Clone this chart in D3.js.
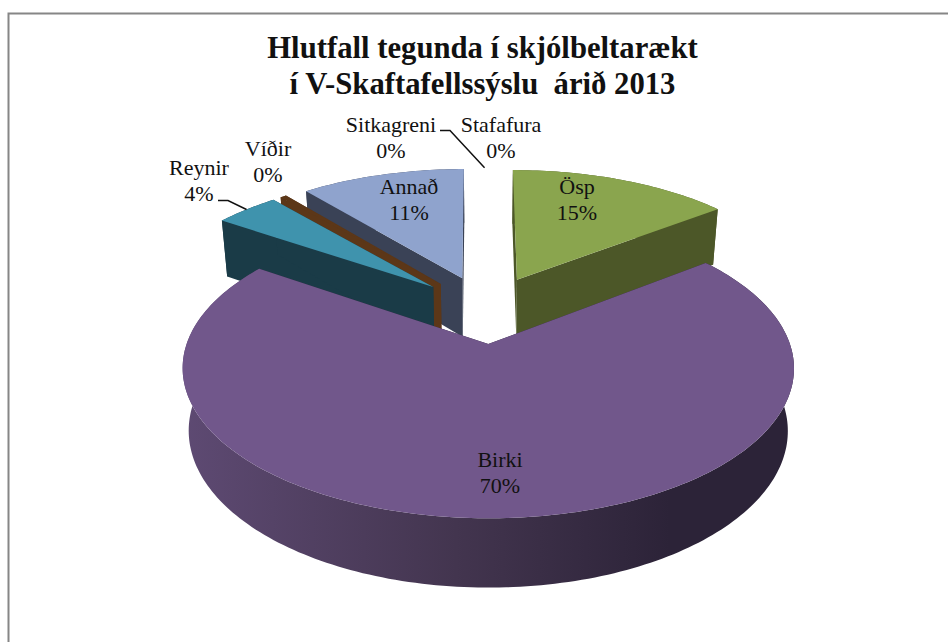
<!DOCTYPE html>
<html>
<head>
<meta charset="utf-8">
<script src="https://cdn.jsdelivr.net/npm/d3@7"></script>
<style>
	html, body { margin: 0; padding: 0; background: #fff; }
	svg { display: block; }
	text { font-family: "Liberation Serif", serif; fill: #111; }
	.title { font-size: 30.7px; font-weight: bold; text-anchor: middle; white-space: pre; }
	.label { font-size: 22px; text-anchor: middle; }
</style>
</head>
<body>
<div id="chart"></div>
<script>
////////////////////////////////////////////////////////////
//////////////////////// Data //////////////////////////////
////////////////////////////////////////////////////////////

var species = ["Ösp", "Birki", "Reynir", "Víðir", "Annað", "Sitkagreni", "Stafafura"];
var shares = [14.55, 69.95, 4.2, 0.4, 10.8, 0.05, 0.05];
var titleLines = ["Hlutfall tegunda í skjólbeltarækt", "í V-Skaftafellssýslu  árið 2013"];

var topColors = ["#8AA54E", "#71578B", "#3F93AD", "#5C3718", "#8FA3CD", "#fff", "#fff"];
var wallColors = ["#4C5728", "#2C2338", "#1A3B47", "#5C3718", "#3A4256", "#fff", "#fff"];

////////////////////////////////////////////////////////////
///////////////////// Set-up the page //////////////////////
////////////////////////////////////////////////////////////

var width = 948, height = 642;

var svg = d3.select("#chart").append("svg")
	.attr("width", width)
	.attr("height", height);

//The frame only shows on the left and at the top of the picture
svg.append("path")
	.attr("d", "M8.5,650V13.5H950")
	.style("fill", "none")
	.style("stroke", "#868686")
	.style("stroke-width", 2);

svg.selectAll(".title")
	.data(titleLines)
	.enter().append("text")
	.attr("class", "title")
	.attr("x", 482.5)
	.attr("y", function(d, i) { return 58 + i * 35.5; })
	.text(function(d) { return d; });

////////////////////////////////////////////////////////////
//////////////////// 3D pie projection /////////////////////
////////////////////////////////////////////////////////////

var centerX = 486, centerY = 309,
	radius = 290,
	explode = 0.25,
	perspective = 0.155,
	tilt = 135;

//Pie plane (unit radius, y up) to the screen
function project(px, py) {
	var w = 1 + perspective * py;
	return [centerX + radius * px / w, centerY - tilt * py / w];
}

//The base of the pie is the same shape pushed down and a little away
function dropped(p) {
	return [centerX + (p[0] - centerX) * 0.98, p[1] + 46 + 0.045 * p[1]];
}

var pie = d3.pie()
	.sort(null)
	.value(function(d) { return d; })(shares);
var path = d3.line();

var angleRange = function(d) {
	var n = Math.max(2, Math.ceil((d.endAngle - d.startAngle) / 0.02));
	return d3.range(n + 1).map(function(i) { return d.startAngle + (d.endAngle - d.startAngle) * i / n; });
};

var slices = pie.map(function(d, i) {
	var mid = (d.startAngle + d.endAngle) / 2,
		ox = explode * Math.sin(mid),
		oy = explode * Math.cos(mid);
	var rim = angleRange(d).map(function(a) { return project(ox + Math.sin(a), oy + Math.cos(a)); });
	return {
		name: species[i],
		share: shares[i],
		index: i,
		tip: project(ox, oy),
		rim: rim,
		mid: mid
	};
});

////////////////////////////////////////////////////////////
/////////////////// Draw the slices ////////////////////////
////////////////////////////////////////////////////////////

//Shade on the outside wall of the big slice, brighter to the left
var defs = svg.append("defs");
var birkiWall = defs.append("linearGradient")
	.attr("id", "birki-wall")
	.attr("gradientUnits", "userSpaceOnUse")
	.attr("x1", 181).attr("x2", 792).attr("y1", 0).attr("y2", 0);
birkiWall.append("stop").attr("offset", "0%").attr("stop-color", "#5E4A73");
birkiWall.append("stop").attr("offset", "45%").attr("stop-color", "#43354F");
birkiWall.append("stop").attr("offset", "80%").attr("stop-color", "#2C2338");
birkiWall.append("stop").attr("offset", "100%").attr("stop-color", "#2C2338");

function wallFill(d) {
	return d.name === "Birki" ? "url(#birki-wall)" : wallColors[d.index];
}

//Back to front so that the big slice covers the rest
var drawOrder = ["Sitkagreni", "Stafafura", "Annað", "Víðir", "Reynir", "Ösp", "Birki"];
var visible = drawOrder.map(function(n) { return slices[species.indexOf(n)]; })
	.filter(function(d) { return d.share >= 0.1; });

var sliceGroups = svg.selectAll(".slice")
	.data(visible)
	.enter().append("g")
	.attr("class", "slice");

//Outer wall
sliceGroups.append("path")
	.style("fill", wallFill)
	.attr("d", function(d) {
		return path(d.rim.concat(d.rim.map(dropped).reverse())) + "Z";
	});

//The two straight walls
sliceGroups.selectAll(".side")
	.data(function(d) {
		return [d.rim[0], d.rim[d.rim.length - 1]].map(function(p) { return { p: p, s: d }; });
	})
	.enter().append("path")
	.attr("class", "side")
	.style("fill", function(d) { return wallColors[d.s.index]; })
	.attr("d", function(d) {
		return path([d.s.tip, d.p, dropped(d.p), dropped(d.s.tip)]) + "Z";
	});

//Top face
sliceGroups.append("path")
	.style("fill", function(d) { return topColors[d.index]; })
	.attr("d", function(d) { return path([d.tip].concat(d.rim)) + "Z"; });

////////////////////////////////////////////////////////////
/////////////////////// Labels /////////////////////////////
////////////////////////////////////////////////////////////

var labelPos = {
	"Ösp": [577, 194],
	"Birki": [500, 467],
	"Reynir": [199, 175],
	"Víðir": [268, 156],
	"Annað": [409, 194],
	"Sitkagreni": [391, 132],
	"Stafafura": [501, 132]
};

var percent = d3.format(".0%");

var labels = svg.selectAll(".label")
	.data(slices)
	.enter().append("text")
	.attr("class", "label")
	.attr("transform", function(d) { return "translate(" + labelPos[d.name] + ")"; });
labels.append("tspan")
	.attr("x", 0)
	.text(function(d) { return d.name; });
labels.append("tspan")
	.attr("x", 0)
	.attr("dy", 25.5)
	.text(function(d) { return percent(d.share / 100); });

//Leader lines, ending on the rim of their slice
var leaders = [
	{ name: "Reynir", start: [218, 200.5], elbow: [228, 200.5] },
	{ name: "Sitkagreni", start: [440, 130.5], elbow: [450, 130.5] }
];

svg.selectAll(".leader")
	.data(leaders)
	.enter().append("path")
	.attr("class", "leader")
	.style("fill", "none")
	.style("stroke", "#111")
	.style("stroke-width", 1.5)
	.attr("d", function(d) {
		var s = slices[species.indexOf(d.name)];
		return path([d.start, d.elbow, s.rim[Math.floor(s.rim.length / 2)]]);
	});
</script>
</body>
</html>
